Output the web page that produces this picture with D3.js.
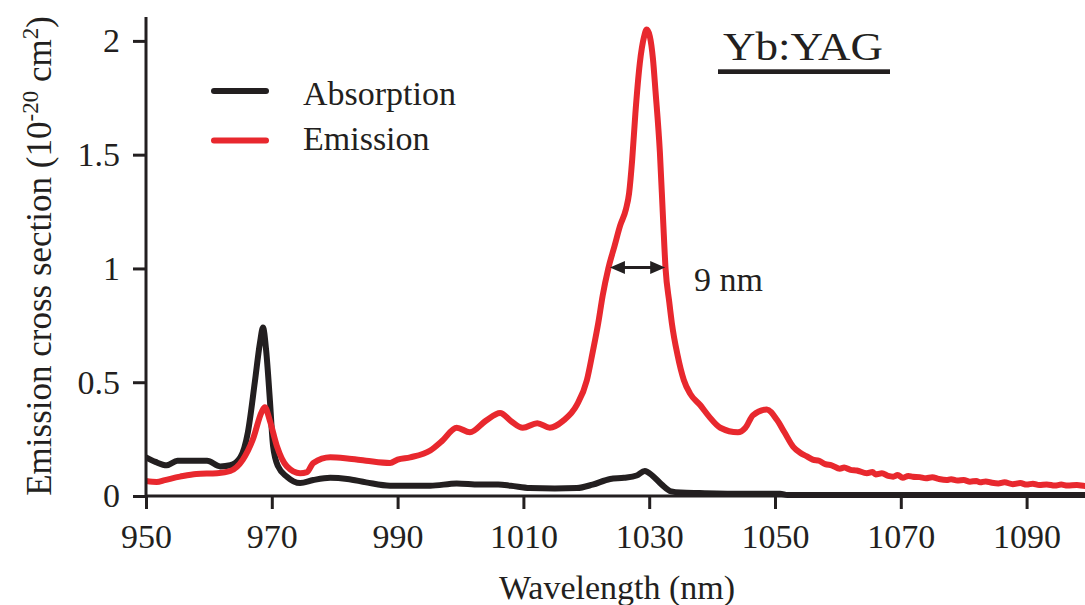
<!DOCTYPE html>
<html>
<head>
<meta charset="utf-8">
<script src="https://cdn.jsdelivr.net/npm/d3@7"></script>
<style>
  html, body { margin: 0; padding: 0; background: #ffffff; }
  svg { display: block; }
  text { font-family: "Liberation Serif", "Times New Roman", serif; fill: #231f20; }
</style>
</head>
<body>
<svg id="chart" width="1085" height="605"></svg>
<script>
// ---------------- data ----------------
const emissionWl = [950, 951.7, 953, 955.4, 958, 961.3, 963.4, 965.4, 967, 968.4, 968.9, 969.7, 970.8, 972.4, 974.5, 975.6, 976.6, 979.3, 982, 985, 988.8, 990, 992, 995.2, 997, 999.4, 1001.5, 1004, 1006.3, 1008, 1009.9, 1012.2, 1014.2, 1016.3, 1018.5, 1020.1, 1021, 1021.9, 1022.6, 1023.5, 1024.5, 1025.4, 1026.3, 1026.8, 1027.3, 1027.8, 1028.5, 1029.2, 1029.6, 1030.1, 1030.6, 1031.0, 1031.7, 1032.2, 1032.6, 1033.2, 1033.6, 1034.5, 1035.5, 1036.5, 1038.1, 1039.5, 1041.3, 1044.1, 1045.3, 1046.5, 1048.7, 1050.3, 1051.5, 1052.9, 1054, 1055, 1056, 1057, 1058, 1059, 1060.3, 1061, 1062, 1063, 1064.6, 1065.5, 1066, 1067, 1068, 1068.8, 1069.5, 1070.3, 1071.2, 1071.9, 1073, 1074, 1075, 1076, 1077.3, 1078, 1079, 1080, 1081, 1082, 1082.6, 1083.5, 1084.5, 1085.5, 1086.5, 1087.8, 1089, 1090, 1091, 1092, 1093.2, 1094.5, 1095.5, 1096.5, 1098, 1099.3, 1100];
const emissionVal = [0.066, 0.062, 0.07, 0.085, 0.097, 0.10, 0.11, 0.16, 0.25, 0.37, 0.39, 0.33, 0.22, 0.13, 0.10, 0.105, 0.145, 0.17, 0.165, 0.155, 0.145, 0.16, 0.17, 0.20, 0.24, 0.30, 0.28, 0.33, 0.365, 0.33, 0.30, 0.32, 0.30, 0.33, 0.40, 0.51, 0.63, 0.76, 0.88, 1.0, 1.1, 1.19, 1.26, 1.33, 1.48, 1.68, 1.9, 2.02, 2.05, 2.02, 1.92, 1.78, 1.51, 1.22, 1.0, 0.85, 0.76, 0.62, 0.51, 0.45, 0.40, 0.35, 0.30, 0.28, 0.30, 0.355, 0.38, 0.335, 0.28, 0.216, 0.19, 0.175, 0.16, 0.155, 0.14, 0.135, 0.12, 0.125, 0.115, 0.112, 0.10, 0.105, 0.095, 0.10, 0.088, 0.085, 0.092, 0.08, 0.088, 0.085, 0.083, 0.078, 0.082, 0.075, 0.07, 0.074, 0.068, 0.07, 0.063, 0.066, 0.06, 0.064, 0.058, 0.055, 0.06, 0.052, 0.057, 0.05, 0.054, 0.048, 0.051, 0.046, 0.05, 0.046, 0.048, 0.044, 0.045];

const absorptionWl = [950, 951.5, 953.3, 955, 957, 959.7, 961.8, 963.4, 965, 966.2, 967.3, 968.1, 968.6, 969.1, 969.7, 970.2, 971, 972.4, 974.5, 976.6, 979.3, 982, 985, 988.8, 995.2, 999.4, 1003, 1006, 1008, 1011, 1015, 1018.5, 1021, 1023.8, 1026, 1028, 1029.3, 1030.5, 1032, 1033.5, 1035, 1038, 1045, 1050.8, 1052, 1100];
const absorptionVal = [0.17, 0.15, 0.135, 0.155, 0.155, 0.155, 0.13, 0.135, 0.17, 0.28, 0.50, 0.67, 0.74, 0.64, 0.42, 0.22, 0.13, 0.085, 0.057, 0.07, 0.08, 0.075, 0.06, 0.045, 0.045, 0.055, 0.05, 0.05, 0.045, 0.035, 0.033, 0.035, 0.05, 0.075, 0.08, 0.09, 0.11, 0.09, 0.05, 0.02, 0.015, 0.013, 0.01, 0.01, 0.004, 0.004];

const xTickValues = [950, 970, 990, 1010, 1030, 1050, 1070, 1090];
const yTickValues = [0, 0.5, 1, 1.5, 2];
const yTickLabels = ["0", "0.5", "1", "1.5", "2"];
const seriesNames = ["Absorption", "Emission"];
const titleText = "Yb:YAG";
const fwhmLabel = "9 nm";
const fwhmLeft = 1023.6, fwhmRight = 1032.7, fwhmLevel = 1.0;

// ---------------- layout ----------------
const W = 1085, H = 605;
const svg = d3.select("#chart");
const ink = "#231f20";
const red = "#e8282e";

const x = d3.scaleLinear().domain([950, 1100]).range([146, 1089.5]);
const y = d3.scaleLinear().domain([0, 2.105]).range([496, 17]);

// clip
svg.append("clipPath").attr("id", "plotclip")
  .append("rect").attr("x", 146).attr("y", 0).attr("width", W - 146).attr("height", 500);

const line = d3.line().x(d => x(d[0])).y(d => y(d[1])).curve(d3.curveMonotoneX);

const absData = absorptionWl.map((w, i) => [w, absorptionVal[i]]);
const emiData = emissionWl.map((w, i) => [w, emissionVal[i]]);

const plot = svg.append("g").attr("clip-path", "url(#plotclip)");
plot.append("path").datum(absData).attr("d", line)
  .attr("fill", "none").attr("stroke", ink).attr("stroke-width", 6)
  .attr("stroke-linejoin", "round").attr("stroke-linecap", "round");
plot.append("path").datum(emiData).attr("d", line)
  .attr("fill", "none").attr("stroke", red).attr("stroke-width", 6)
  .attr("stroke-linejoin", "round").attr("stroke-linecap", "round");

// axes
const xAxis = d3.axisBottom(x).tickValues(xTickValues).tickSize(13).tickSizeOuter(0).tickPadding(15)
  .tickFormat(d3.format("d"));
const gx = svg.append("g").attr("transform", `translate(0,${y(0)})`).call(xAxis);
gx.select(".domain").remove();
gx.append("line").attr("x1", 146).attr("x2", W).attr("y1", 0).attr("y2", 0)
  .attr("stroke", ink).attr("stroke-width", 3);
gx.selectAll(".tick line").attr("stroke", ink).attr("stroke-width", 3);
gx.selectAll(".tick text").attr("font-size", 34).attr("fill", ink)
  .attr("font-family", "'Liberation Serif', 'Times New Roman', serif");

const yAxis = d3.axisLeft(y).tickValues(yTickValues).tickSize(13).tickSizeOuter(0).tickPadding(13)
  .tickFormat((d, i) => yTickLabels[i]);
const gy = svg.append("g").attr("transform", `translate(${x(950)},0)`).call(yAxis);
gy.select(".domain").remove();
gy.append("line").attr("x1", 0).attr("x2", 0).attr("y1", y(2.105)).attr("y2", y(0) + 1.5)
  .attr("stroke", ink).attr("stroke-width", 3);
gy.selectAll(".tick line").attr("stroke", ink).attr("stroke-width", 3);
gy.selectAll(".tick text").attr("font-size", 34).attr("fill", ink)
  .attr("font-family", "'Liberation Serif', 'Times New Roman', serif");

// axis titles
svg.append("text").attr("x", 617).attr("y", 599).attr("text-anchor", "middle")
  .attr("font-size", 34).text("Wavelength (nm)");

const yt = svg.append("text").attr("transform", "translate(51,256) rotate(-90)")
  .attr("text-anchor", "middle").attr("font-size", 35);
yt.append("tspan").text("Emission cross section (10");
yt.append("tspan").attr("font-size", 23).attr("dy", -13).text("-20");
yt.append("tspan").attr("dy", 13).text(" cm");
yt.append("tspan").attr("font-size", 23).attr("dy", -13).text("2");
yt.append("tspan").attr("dy", 13).text(")");

// legend
const legend = svg.append("g");
const legendColors = [ink, red];
const legendY = [91, 140.5];
const legendTextY = [105, 150];
seriesNames.forEach((name, i) => {
  legend.append("line").attr("x1", 214).attr("x2", 266).attr("y1", legendY[i]).attr("y2", legendY[i])
    .attr("stroke", legendColors[i]).attr("stroke-width", 6).attr("stroke-linecap", "round");
  legend.append("text").attr("x", 303).attr("y", legendTextY[i]).attr("font-size", 34).text(name);
});

// title
svg.append("text").attr("x", 723).attr("y", 59.5).attr("font-size", 40)
  .attr("textLength", 160).attr("lengthAdjust", "spacingAndGlyphs").text(titleText);
svg.append("rect").attr("x", 718).attr("y", 69.3).attr("width", 172).attr("height", 4.7).attr("fill", ink);

// FWHM arrow
const ay = y(fwhmLevel) - 1;
const ax1 = x(fwhmLeft) + 1, ax2 = x(fwhmRight) - 1;
svg.append("line").attr("x1", ax1 + 8).attr("x2", ax2 - 8).attr("y1", ay).attr("y2", ay)
  .attr("stroke", ink).attr("stroke-width", 3);
svg.append("path").attr("d", `M${ax1},${ay} L${ax1 + 15},${ay - 6.5} L${ax1 + 15},${ay + 6.5} Z`).attr("fill", ink);
svg.append("path").attr("d", `M${ax2},${ay} L${ax2 - 15},${ay - 6.5} L${ax2 - 15},${ay + 6.5} Z`).attr("fill", ink);
svg.append("text").attr("x", 694).attr("y", 290.5).attr("font-size", 34).text(fwhmLabel);
</script>
</body>
</html>
